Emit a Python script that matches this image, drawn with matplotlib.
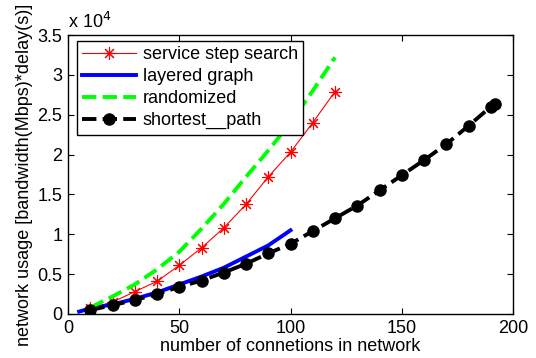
import matplotlib
matplotlib.use("Agg")
import matplotlib.pyplot as plt
from matplotlib.ticker import FuncFormatter

plt.rcParams['font.family'] = ['Liberation Sans', 'DejaVu Sans']

# data (y values in units of 1e4)
x_step = [10, 20, 30, 40, 50, 60, 70, 80, 90, 100, 110, 120]
y_step = [0.07, 0.15, 0.28, 0.41, 0.61, 0.83, 1.08, 1.375, 1.72, 2.03, 2.40, 2.79]

x_layer = [5, 10, 20, 30, 40, 50, 60, 70, 80, 90, 100]
y_layer = [0.03, 0.07, 0.12, 0.19, 0.27, 0.37, 0.47, 0.58, 0.72, 0.86, 1.05]

x_rand = [10, 20, 30, 40, 50, 60, 70, 80, 90, 100, 110, 120]
y_rand = [0.08, 0.22, 0.37, 0.56, 0.78, 1.07, 1.38, 1.72, 2.05, 2.40, 2.80, 3.22]

x_short = [10, 20, 30, 40, 50, 60, 70, 80, 90, 100, 110, 120, 130, 140, 150,
           160, 170, 180, 190, 192]
y_short = [0.05, 0.11, 0.175, 0.25, 0.34, 0.42, 0.52, 0.63, 0.76, 0.88, 1.04,
           1.20, 1.36, 1.55, 1.74, 1.93, 2.13, 2.36, 2.60, 2.64]

scale = 1e4
fs = 13

fig = plt.figure(figsize=(5.36, 3.58), dpi=100)
ax = fig.add_axes([68 / 536, 44 / 358, 445 / 536, 279 / 358])

ax.plot(x_step, [v * scale for v in y_step], color='red', lw=0.8,
        marker=(8, 2, 0), markersize=9, markeredgewidth=0.8,
        label='service step search')
ax.plot(x_layer, [v * scale for v in y_layer], color='blue', lw=2.8,
        label='layered graph')
ax.plot(x_rand, [v * scale for v in y_rand], color='#00ff00', lw=2.8,
        linestyle='--', label='randomized')
ax.plot(x_short, [v * scale for v in y_short], color='black', lw=2.8,
        linestyle='--', marker='o', markersize=8, label='shortest__path')

ax.set_xlim(0, 200)
ax.set_ylim(0, 3.5e4)
ax.set_xticks([0, 50, 100, 150, 200])
ax.set_yticks([i * 0.5e4 for i in range(8)])
ax.yaxis.set_major_formatter(FuncFormatter(lambda v, p: '%g' % (v / scale)))
ax.tick_params(direction='in', top=True, right=True, labelsize=fs, length=4,
               width=0.8, pad=4)
for s in ax.spines.values():
    s.set_linewidth(1.0)

ax.text(0.0, 1.012, r'x 10$^4$', transform=ax.transAxes, fontsize=fs,
        ha='left', va='bottom')

ax.set_xlabel('number of connetions in network', fontsize=fs, labelpad=1)
ax.set_ylabel('network usage [bandwidth(Mbps)*delay(s)]', fontsize=fs,
              labelpad=3)

leg = ax.legend(loc='upper left', bbox_to_anchor=(0.02, 0.98), fontsize=fs,
                handlelength=3.0, numpoints=1, fancybox=False, framealpha=1,
                edgecolor='black', borderpad=0.3, labelspacing=0.28,
                handletextpad=0.35, borderaxespad=0.0)
leg.get_frame().set_linewidth(1.0)

fig.savefig('out.png', dpi=100)
